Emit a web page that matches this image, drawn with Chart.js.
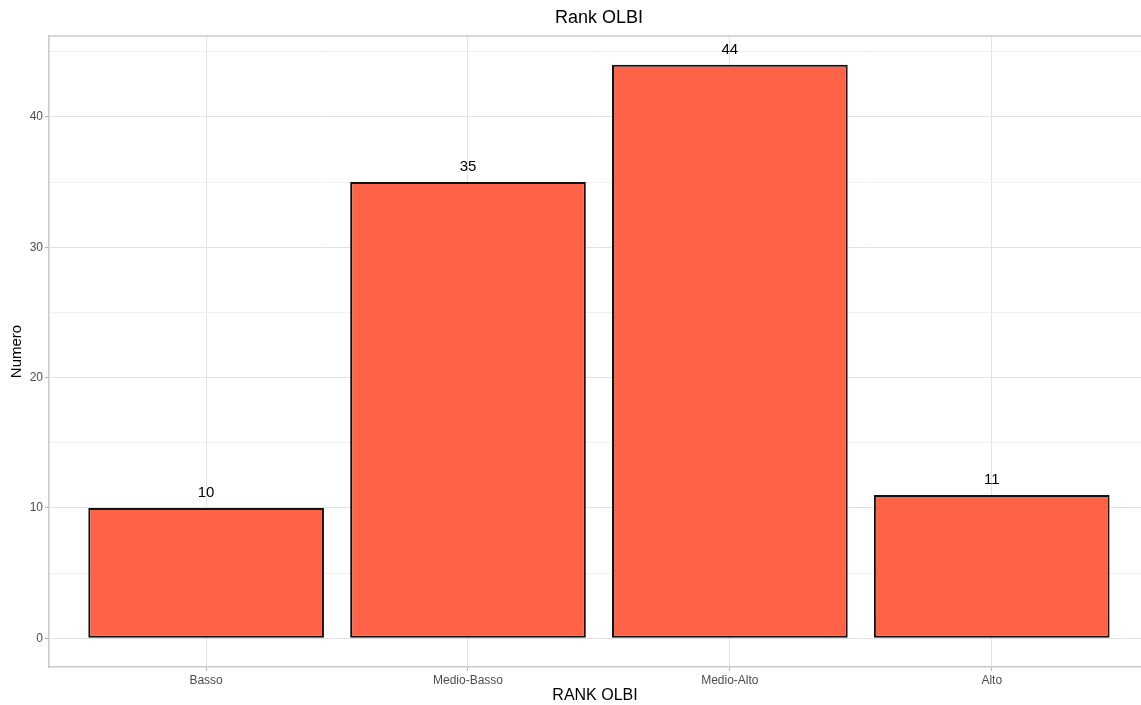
<!DOCTYPE html>
<html>
<head>
<meta charset="utf-8">
<script src="https://cdn.jsdelivr.net/npm/chart.js@4"></script>
<style>
  html, body { margin: 0; padding: 0; background: #fff; }
  #wrap { width: 1141px; height: 705px; }
</style>
</head>
<body>
<div id="wrap"><canvas id="chart"></canvas></div>
<script>
// Data
const categories = ['Basso', 'Medio-Basso', 'Medio-Alto', 'Alto'];
const counts = [10, 35, 44, 11];
const yMajorTicks = [0, 10, 20, 30, 40];
const yMinorTicks = [5, 15, 25, 35, 45];
const chartTitle = 'Rank OLBI';

const FONT = '"Liberation Sans", Arial, sans-serif';
const GRID_MAJOR = '#e2e2e2';
const GRID_MINOR = '#f0f0f0';
const FRAME = '#c9c9c9';

// value labels above each bar
const valueLabels = {
  id: 'valueLabels',
  afterDatasetsDraw(chart) {
    const { ctx } = chart;
    const meta = chart.getDatasetMeta(0);
    ctx.save();
    ctx.font = '15px ' + FONT;
    ctx.fillStyle = '#000';
    ctx.textAlign = 'center';
    ctx.textBaseline = 'alphabetic';
    meta.data.forEach((bar, i) => ctx.fillText(String(counts[i]), bar.x, bar.y - 11));
    ctx.restore();
  }
};

// top edge of the panel frame + title centred over the panel
const panelTop = {
  id: 'panelTop',
  afterDatasetsDraw(chart) {
    const { ctx, chartArea: a } = chart;
    ctx.save();
    ctx.strokeStyle = FRAME;
    ctx.lineWidth = 1.5;
    ctx.beginPath();
    ctx.moveTo(a.left, a.top);
    ctx.lineTo(a.right, a.top);
    ctx.stroke();
    ctx.font = '18px ' + FONT;
    ctx.fillStyle = '#000';
    ctx.textAlign = 'center';
    ctx.textBaseline = 'middle';
    // panel runs a few px past the right edge of the canvas
    ctx.fillText(chartTitle, (a.left + a.right + 8) / 2, 18);
    ctx.restore();
  }
};

const allY = yMajorTicks.concat(yMinorTicks).sort((a, b) => a - b);

new Chart(document.getElementById('chart'), {
  type: 'bar',
  data: {
    datasets: [{
      data: counts.map((v, i) => ({ x: i, y: v })),
      backgroundColor: '#FF6347',
      borderColor: '#111',
      borderWidth: 2,
      borderSkipped: false,
      categoryPercentage: 1,
      barPercentage: 0.9
    }]
  },
  options: {
    responsive: true,
    maintainAspectRatio: false,
    animation: false,
    layout: { padding: { top: 36, left: 0, right: 0, bottom: 0 } },
    plugins: {
      legend: { display: false },
      tooltip: { enabled: false },
      title: { display: false }
    },
    scales: {
      x: {
        type: 'linear',
        offset: false,
        min: -0.6,
        max: 3.57,
        afterBuildTicks: s => { s.ticks = categories.map((c, i) => ({ value: i })); },
        afterFit: s => { s.height = 38; },
        ticks: {
          autoSkip: false,
          maxRotation: 0,
          padding: 2,
          color: '#4d4d4d',
          font: { family: FONT, size: 12 },
          callback: v => categories[v]
        },
        grid: { offset: false, color: GRID_MAJOR, tickColor: '#b3b3b3', tickLength: 4 },
        border: { color: FRAME, width: 1.5 },
        title: {
          display: true,
          text: 'RANK OLBI',
          color: '#000',
          font: { family: FONT, size: 16 },
          padding: { top: 0, bottom: 0 }
        }
      },
      y: {
        min: -2.2,
        max: 46.2,
        afterBuildTicks: s => { s.ticks = allY.map(v => ({ value: v })); },
        afterFit: s => { s.width = 49; },
        ticks: {
          padding: 2,
          color: '#4d4d4d',
          font: { family: FONT, size: 12 },
          callback: v => yMajorTicks.includes(v) ? String(v) : ''
        },
        grid: {
          color: c => c.tick && yMajorTicks.includes(c.tick.value) ? GRID_MAJOR : GRID_MINOR,
          tickColor: c => c.tick && yMajorTicks.includes(c.tick.value) ? '#b3b3b3' : 'rgba(0,0,0,0)',
          tickLength: 4
        },
        border: { color: FRAME, width: 1.5 },
        title: {
          display: true,
          text: 'Numero',
          color: '#000',
          font: { family: FONT, size: 15 },
          padding: { top: 8, bottom: 0 }
        }
      }
    }
  },
  plugins: [valueLabels, panelTop]
});
</script>
</body>
</html>
